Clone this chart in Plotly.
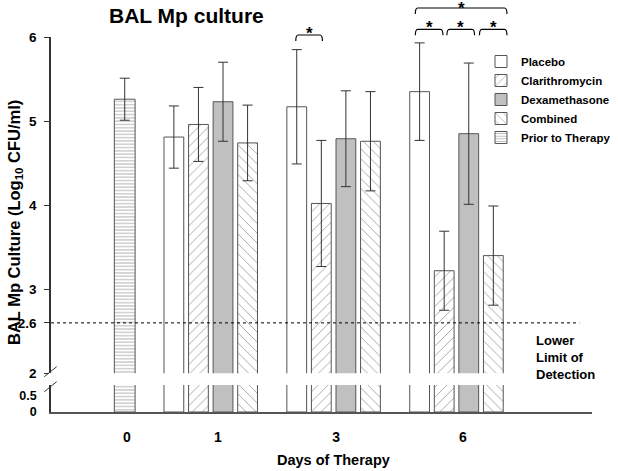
import plotly.graph_objects as go

# ---------------- data ----------------
days = ["0", "1", "3", "6"]
treatments = ["Placebo", "Clarithromycin", "Dexamethasone", "Combined"]
treated_days = ["1", "3", "6"]

placebo = [4.81, 5.17, 5.35]
placebo_err = [0.37, 0.68, 0.58]
clarithromycin = [4.96, 4.02, 3.22]
clarithromycin_err = [0.44, 0.75, 0.47]
dexamethasone = [5.23, 4.79, 4.85]
dexamethasone_err = [0.47, 0.57, 0.84]
combined = [4.74, 4.76, 3.40]
combined_err = [0.45, 0.59, 0.59]

prior_day = ["0"]
prior = [5.26]
prior_err = [0.25]

lower_limit = 2.6
upper_ticks = [2, 2.6, 3, 4, 5, 6]
lower_ticks = [0, 0.5]

# ---------------- layout helpers ----------------
W, H = 618, 471
ML, MR, MT, MB = 51, 26, 37, 59
PLOT_H = H - MT - MB


def py(p):  # pixel y (from top) -> paper y
    return (H - MB - p) / PLOT_H


def px(p):  # pixel x -> paper x
    return (p - ML) / (W - ML - MR)


group_pos = {"0": 0.30, "1": 1.0, "3": 2.0, "6": 3.0}
label_pos = {"0": 0.317, "1": 1.058, "3": 2.02, "6": 3.053}
slot = [-0.30, -0.10, 0.10, 0.30]
bar_w = 0.161

font_family = "Arial, Liberation Sans, sans-serif"
edge = "#555555"

series = [
    ("Placebo", placebo, placebo_err, dict(color="white")),
    ("Clarithromycin", clarithromycin, clarithromycin_err,
     dict(color="white", pattern=dict(shape="/", fgcolor=edge, bgcolor="white", size=7, solidity=0.14))),
    ("Dexamethasone", dexamethasone, dexamethasone_err, dict(color="#c0c0c0")),
    ("Combined", combined, combined_err,
     dict(color="white", pattern=dict(shape="\\", fgcolor=edge, bgcolor="white", size=7, solidity=0.14))),
]

fig = go.Figure()

for i, (name, vals, errs, mk) in enumerate(series):
    xs = [group_pos[d] + slot[i] for d in treated_days]
    marker = dict(mk, line=dict(color=edge, width=1))
    fig.add_trace(go.Bar(
        x=xs, y=vals, width=bar_w, name=name, marker=marker,
        xaxis="x", yaxis="y2",
        error_y=dict(type="data", array=errs, visible=True, color="#333333", thickness=1, width=5),
        legendrank=i + 1,
    ))
    fig.add_trace(go.Bar(
        x=xs, y=vals, width=bar_w, name=name, marker=marker,
        xaxis="x", yaxis="y", showlegend=False,
    ))

prior_marker = dict(color="white",
                    pattern=dict(shape="-", fgcolor="#666666", bgcolor="white", size=3.3, solidity=0.3),
                    line=dict(color=edge, width=1))
fig.add_trace(go.Bar(
    x=[group_pos[d] for d in prior_day], y=prior, width=0.169, name="Prior to Therapy",
    marker=prior_marker, xaxis="x", yaxis="y2",
    error_y=dict(type="data", array=prior_err, visible=True, color="#333333", thickness=1, width=5),
    legendrank=5,
))
fig.add_trace(go.Bar(
    x=[group_pos[d] for d in prior_day], y=prior, width=0.169, name="Prior to Therapy",
    marker=prior_marker, xaxis="x", yaxis="y", showlegend=False,
))

upper_bottom = py(373.3)
lower_top = py(385)

fig.update_layout(
    width=W, height=H,
    margin=dict(l=ML, r=MR, t=MT, b=MB, autoexpand=False),
    paper_bgcolor="white", plot_bgcolor="white",
    barmode="overlay",
    font=dict(family=font_family, color="black"),
    showlegend=True,
    legend=dict(x=px(481), y=py(47), xanchor="left", yanchor="top",
                font=dict(size=11.5, family=font_family, weight="bold"),
                bgcolor="rgba(0,0,0,0)", borderwidth=0, tracegroupgap=0),
    xaxis=dict(range=[-0.30, 4.103], domain=[0, 1], anchor="y",
               showline=True, linecolor=edge, linewidth=2,
               tickmode="array", tickvals=[label_pos[d] for d in days], ticktext=days,
               ticks="", ticklabelstandoff=11,
               tickfont=dict(size=14, family=font_family, weight="bold"),
               showgrid=False, zeroline=False, fixedrange=True),
    yaxis=dict(range=[0, (385 - 412) / -32.0], domain=[0, lower_top], anchor="x",
               showline=True, linecolor="#333333", linewidth=1.5,
               tickmode="array", tickvals=lower_ticks, ticktext=["0", "0.5"],
               ticks="", ticklabelstandoff=10,
               tickfont=dict(size=12.5, family=font_family, weight="bold"),
               showgrid=False, zeroline=False),
    yaxis2=dict(range=[2, 6], domain=[upper_bottom, 1], anchor="x",
                showline=True, linecolor="#333333", linewidth=1.5,
                tickmode="array", tickvals=upper_ticks, ticktext=["2", "2.6", "3", "4", "5", "6"],
                ticks="outside", ticklen=5, tickcolor="#333333", ticklabelstandoff=5,
                tickfont=dict(size=13.5, family=font_family, weight="bold"),
                showgrid=False, zeroline=False),
)

shapes = []
# lower limit of detection dotted line
shapes.append(dict(type="line", xref="x", yref="y2", x0=-0.30, x1=4.0, y0=lower_limit, y1=lower_limit,
                   line=dict(color="black", width=1, dash="dot")))
# axis break marks
for yc in (371.7, 386.7):
    shapes.append(dict(type="line", xref="paper", yref="paper",
                       x0=px(44.3), x1=px(56.7), y0=py(yc + 5), y1=py(yc - 5),
                       line=dict(color="#333333", width=1)))

# significance brackets: (x0, x1, top pixel, star gap)
brackets = [
    (1.692, 1.909, 35.0, 10),
    (2.665, 2.890, 29.3, 10),
    (2.922, 3.147, 29.3, 10),
    (3.187, 3.411, 29.3, 10),
    (2.665, 3.411, 8.0, 11.5),
]
annotations = []
for x0, x1, top, gap in brackets:
    d = 0.02
    ytop = py(top)
    ylow = py(top + 6)
    path = (f"M {x0},{ylow} Q {x0},{ytop} {x0 + d},{ytop} "
            f"L {x1 - d},{ytop} Q {x1},{ytop} {x1},{ylow}")
    shapes.append(dict(type="path", xref="x", yref="paper", path=path,
                       line=dict(color="black", width=1.2)))
    annotations.append(dict(x=(x0 + x1) / 2, y=py(top + gap), xref="x", yref="paper",
                            text="*", showarrow=False, xanchor="center", yanchor="bottom",
                            font=dict(size=17, family=font_family, weight="bold")))

annotations += [
    dict(x=px(186.7), y=py(15), xref="paper", yref="paper", text="BAL Mp culture",
         showarrow=False, xanchor="center", yanchor="middle",
         font=dict(size=21, family=font_family, weight="bold")),
    dict(x=px(15), y=py(223), xref="paper", yref="paper",
         text="BAL Mp Culture (Log<sub>10</sub> CFU/ml)", textangle=-90,
         showarrow=False, xanchor="center", yanchor="middle",
         font=dict(size=16.5, family=font_family, weight="bold")),
    dict(x=px(333), y=py(460), xref="paper", yref="paper", text="Days of Therapy",
         showarrow=False, xanchor="center", yanchor="middle",
         font=dict(size=14.5, family=font_family, weight="bold")),
    dict(x=px(534), y=py(357), xref="paper", yref="paper",
         text="Lower<br>Limit of<br>Detection", align="left",
         showarrow=False, xanchor="left", yanchor="middle",
         font=dict(size=13, family=font_family, weight="bold")),
]

fig.update_layout(shapes=shapes, annotations=annotations)

fig.write_html("out.html", config={"displayModeBar": False},
               post_script="document.body.style.margin='0px';")
